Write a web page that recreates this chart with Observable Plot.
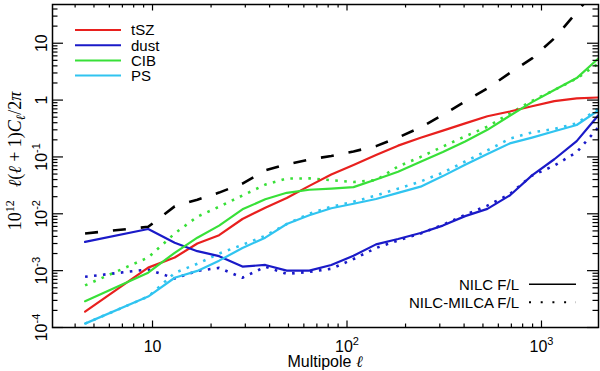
<!DOCTYPE html>
<html><head><meta charset="utf-8">
<script src="https://cdn.jsdelivr.net/npm/d3@7"></script>
<script src="https://cdn.jsdelivr.net/npm/@observablehq/plot@0.6"></script>
<style>
body{margin:0;background:#fff;}
#chart{width:600px;height:371px;}
</style></head><body><div id="chart"></div>
<script>
// Multipole bins
const ell = [4.5, 9.5, 13, 17, 22, 29, 38, 49, 64, 83, 108, 141, 183, 239, 311, 405, 527, 687, 894, 1164, 1517, 1960];
// NILC F/L (solid)
const tSZ  = [1.9e-4, 1.13e-3, 1.7e-3, 3.0e-3, 4.2e-3, 8.1e-3, 0.0128, 0.019, 0.031, 0.049, 0.072, 0.108, 0.158, 0.217, 0.29, 0.39, 0.52, 0.63, 0.78, 0.96, 1.07, 1.11];
const dust = [3.2e-3, 5.4e-3, 3.1e-3, 2.2e-3, 1.8e-3, 1.18e-3, 1.26e-3, 1.0e-3, 1.0e-3, 1.26e-3, 1.83e-3, 2.9e-3, 3.6e-3, 4.6e-3, 6.2e-3, 9.1e-3, 0.0122, 0.021, 0.0475, 0.091, 0.19, 0.54];
const cib  = [2.9e-4, 9.2e-4, 2.06e-3, 3.8e-3, 6.2e-3, 0.012, 0.018, 0.0234, 0.0265, 0.0278, 0.0294, 0.040, 0.055, 0.082, 0.122, 0.187, 0.30, 0.53, 0.92, 1.5, 2.44, 5.4];
const ps   = [1.17e-4, 3.5e-4, 7.5e-4, 9.9e-4, 1.5e-3, 2.5e-3, 3.8e-3, 6.6e-3, 9.4e-3, 0.0125, 0.015, 0.0182, 0.0233, 0.030, 0.046, 0.073, 0.113, 0.173, 0.219, 0.283, 0.365, 0.66];
// NILC-MILCA F/L (dotted)
const dustMilca = [7.8e-4, 1.05e-3, 7.3e-4, 9.9e-4, 1.12e-3, 7.5e-4, 1.17e-3, 8.8e-4, 9.5e-4, 1.08e-3, 1.6e-3, 2.5e-3, 3.4e-3, 4.5e-3, 6.4e-3, 0.0096, 0.0139, 0.0222, 0.047, 0.0705, 0.121, 0.33];
const cibMilca  = [5.5e-4, 1.7e-3, 4.5e-3, 8.9e-3, 0.0133, 0.021, 0.0326, 0.0416, 0.042, 0.039, 0.0362, 0.039, 0.068, 0.10, 0.152, 0.23, 0.34, 0.58, 0.97, 1.5, 2.4, 4.4];
const psMilca   = [1.17e-4, 3.5e-4, 9.1e-4, 1.32e-3, 2.0e-3, 2.85e-3, 4.1e-3, 6.6e-3, 0.010, 0.0133, 0.0163, 0.021, 0.0277, 0.037, 0.053, 0.083, 0.13, 0.21, 0.27, 0.31, 0.39, 0.71];
// dashed black curve
const total = [4.5e-3, 5.9e-3, 0.0135, 0.0177, 0.0236, 0.034, 0.058, 0.074, 0.09, 0.104, 0.125, 0.155, 0.22, 0.33, 0.55, 0.95, 1.6, 3.0, 5.4, 12.2, 35, 100];

const seriesNames  = ["tSZ", "dust", "CIB", "PS"];
const seriesColors = ["#e8201e", "#1a1ac8", "#38e038", "#30c4f0"];
const methodNames  = ["NILC F/L", "NILC-MILCA F/L"];

const xTickValues = [10, 100, 1000];
const xTickLabels = ["10", "10|2", "10|3"];
const yTickValues = [1e-4, 1e-3, 1e-2, 1e-1, 1, 10];
const yTickLabels = ["10|-4", "10|-3", "10|-2", "10|-1", "1", "10"];

const xMinor = [];
for (const e of [1, 10, 100]) for (let k = 2; k <= 9; k++) if (k * e >= 3.1) xMinor.push(k * e);
const yMinor = [];
for (const e of [1e-4, 1e-3, 1e-2, 1e-1, 1, 10]) for (let k = 2; k <= 9; k++) if (k * e <= 48) yMinor.push(k * e);

const rows = (vals) => ell.map((l, i) => ({ell: l, v: vals[i]}));
const solid = [tSZ, dust, cib, ps];
const dotted = [null, dustMilca, cibMilca, psMilca];

const W = 600, H = 371, ML = 52, MR = 2, MT = 4, MB = 44;
const PW = W - ML - MR, PH = H - MT - MB;

const marks = [];
marks.push(Plot.line(rows(total), {x: "ell", y: "v", stroke: "black", strokeWidth: 2.6, strokeDasharray: "13,15", strokeLinecap: "butt", clip: true}));
dotted.forEach((d, i) => { if (d) marks.push(Plot.line(rows(d), {x: "ell", y: "v", stroke: seriesColors[i], strokeWidth: 2.6, strokeDasharray: "2.6,6.4", strokeLinecap: "butt", clip: true})); });
solid.forEach((d, i) => marks.push(Plot.line(rows(d), {x: "ell", y: "v", stroke: seriesColors[i], strokeWidth: 2.2, clip: true})));
// inward ticks on all four sides
const tk = {stroke: "black", strokeWidth: 1.2};
marks.push(Plot.tickX(xTickValues, {x: d => d, insetTop: PH - 6.5, ...tk}));
marks.push(Plot.tickX(xTickValues, {x: d => d, insetBottom: PH - 6.5, ...tk}));
marks.push(Plot.tickX(xMinor, {x: d => d, insetTop: PH - 3.5, ...tk}));
marks.push(Plot.tickX(xMinor, {x: d => d, insetBottom: PH - 3.5, ...tk}));
marks.push(Plot.tickY(yTickValues, {y: d => d, insetRight: PW - 11, ...tk}));
marks.push(Plot.tickY(yTickValues, {y: d => d, insetLeft: PW - 11, ...tk}));
marks.push(Plot.tickY(yMinor, {y: d => d, insetRight: PW - 5.5, ...tk}));
marks.push(Plot.tickY(yMinor, {y: d => d, insetLeft: PW - 5.5, ...tk}));
marks.push(Plot.axisX({ticks: xTickValues, tickFormat: d => xTickLabels[xTickValues.indexOf(d)], tickSize: 0, tickPadding: 13, fontSize: 16, label: null}));
marks.push(Plot.axisY({ticks: yTickValues, tickFormat: d => yTickLabels[yTickValues.indexOf(d)], tickSize: 0, tickPadding: 6, tickRotate: -90, fontSize: 16, label: null}));
marks.push(Plot.frame({stroke: "black", strokeWidth: 1.5}));

const plot = Plot.plot({
  width: W, height: H, marginLeft: ML, marginRight: MR, marginTop: MT, marginBottom: MB,
  x: {type: "log", domain: [3.06, 1964]},
  y: {type: "log", domain: [1e-4, 48]},
  style: {fontFamily: "'Liberation Sans', Arial, Helvetica, sans-serif", fontSize: "16px", color: "black", background: "white", overflow: "visible"},
  marks
});
document.getElementById("chart").appendChild(plot);

const svg = d3.select(plot);
// superscript exponents in tick labels
svg.selectAll('g[aria-label$="tick label"] text').each(function () {
  const t = this.textContent;
  if (!t.includes("|")) return;
  const [b, e] = t.split("|");
  const s = d3.select(this);
  s.text(null);
  s.append("tspan").text(b);
  s.append("tspan").attr("font-size", 11).attr("dy", -7).text(e);
});

const sans = "'Liberation Sans', Arial, Helvetica, sans-serif";
const serif = "'Liberation Serif', 'DejaVu Serif', 'Times New Roman', serif";

// series legend (top-left)
seriesNames.forEach((n, i) => {
  const y = 30 + 15.2 * i;
  svg.append("line").attr("x1", 75).attr("x2", 121).attr("y1", y).attr("y2", y)
    .attr("stroke", seriesColors[i]).attr("stroke-width", 2);
  svg.append("text").attr("x", 131).attr("y", y + 5.4).attr("text-anchor", "start").attr("font-family", sans)
    .attr("font-size", 15).attr("fill", "black").text(n);
});
// method legend (bottom-right)
methodNames.forEach((n, i) => {
  const y = 284.3 + 18 * i;
  svg.append("text").attr("x", 519).attr("y", y + 5.4).attr("text-anchor", "end")
    .attr("font-family", sans).attr("font-size", 15).attr("fill", "black").text(n);
  svg.append("line").attr("x1", 529).attr("x2", 576).attr("y1", y).attr("y2", y)
    .attr("stroke", "black").attr("stroke-width", i ? 2 : 1.5)
    .attr("stroke-dasharray", i ? "2,9.7" : null);
});

// x-axis title
const xt = svg.append("text").attr("x", 325).attr("y", 367).attr("text-anchor", "middle")
  .attr("font-family", sans).attr("font-size", 16).attr("fill", "black");
xt.append("tspan").text("Multipole ");
xt.append("tspan").attr("font-family", serif).attr("font-style", "italic").text("\u2113");

// y-axis title
const yt = svg.append("text").attr("transform", "translate(21,161) rotate(-90)")
  .attr("text-anchor", "middle").attr("font-family", serif).attr("font-size", 18).attr("fill", "black");
yt.append("tspan").text("10");
yt.append("tspan").attr("font-size", 12).attr("dy", -7).text("12");
yt.append("tspan").attr("dy", 7).attr("dx", 13).attr("font-style", "italic").text("\u2113");
yt.append("tspan").text("(");
yt.append("tspan").attr("font-style", "italic").text("\u2113");
yt.append("tspan").text(" + 1)");
yt.append("tspan").attr("font-style", "italic").text("C");
yt.append("tspan").attr("font-style", "italic").attr("font-size", 13).attr("dy", 4).text("\u2113");
yt.append("tspan").attr("dy", -4).text("/2");
yt.append("tspan").attr("font-style", "italic").text("\u03c0");
</script></body></html>
